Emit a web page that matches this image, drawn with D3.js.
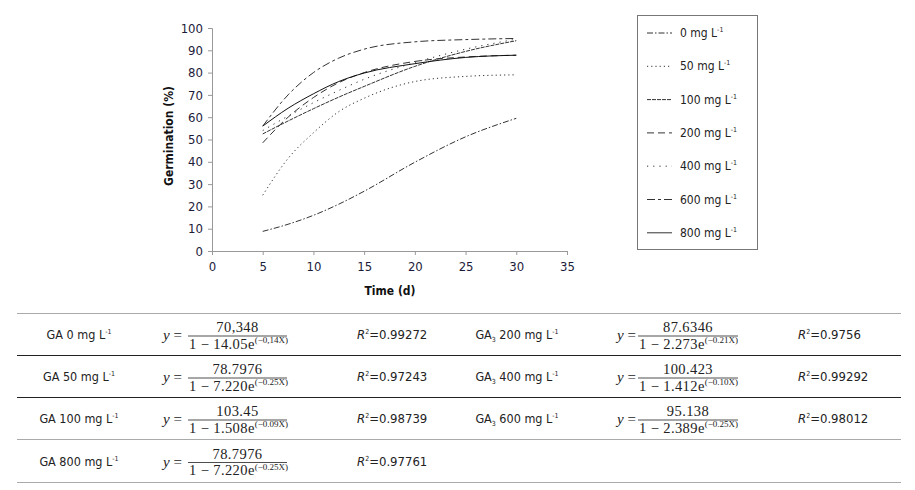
<!DOCTYPE html>
<html>
<head>
<meta charset="utf-8">
<script src="https://cdn.jsdelivr.net/npm/d3@7/dist/d3.min.js"></script>
<style>
  body { margin: 0; background: #fff; }
  svg { display: block; }
  .narrow { font-family: "Liberation Sans Narrow", "DejaVu Sans Condensed", "Liberation Sans", sans-serif; }
  .math { font-family: "Liberation Serif", "DejaVu Serif", serif; }
</style>
</head>
<body>
<script>
'use strict';

var days = [5, 7.5, 10, 12.5, 15, 20, 25, 30];

var doses = ["0", "50", "100", "200", "400", "600", "800"];

var germ0   = [8.8, 12, 16, 21, 26.8, 39.8, 51.2, 59.5];
var germ50  = [25, 41.5, 53, 62.5, 68.5, 76, 78.3, 79];
var germ100 = [52.5, 58.3, 63.8, 69, 73.8, 82.8, 89.5, 94.3];
var germ200 = [48.5, 60, 68.8, 75.5, 80, 85, 87, 87.8];
var germ400 = [54, 60.5, 66.5, 72, 77, 84.5, 90.5, 95];
var germ600 = [56, 70, 80, 86.5, 90.5, 93.8, 94.8, 95.3];
var germ800 = [56, 64, 70.5, 76, 79.8, 84, 86.8, 87.8];

var xTicks = [0, 5, 10, 15, 20, 25, 30, 35];
var yTicks = [0, 10, 20, 30, 40, 50, 60, 70, 80, 90, 100];

// table of fitted equations
var eqPrefix = ["GA", "GA", "GA", "GA", "GA₃", "GA₃", "GA₃"];
var eqDose   = ["0", "50", "100", "800", "200", "400", "600"];
var eqNum    = ["70,348", "78.7976", "103.45", "78.7976", "87.6346", "100.423", "95.138"];
var eqCoef   = ["14.05", "7.220", "1.508", "7.220", "2.273", "1.412", "2.389"];
var eqRate   = ["−0,14X", "−0.25X", "−0.09X", "−0.25X", "−0.21X", "−0.10X", "−0.25X"];
var eqR2     = ["0.99272", "0.97243", "0.98739", "0.97761", "0.9756", "0.99292", "0.98012"];

var series = [germ0, germ50, germ100, germ200, germ400, germ600, germ800];
var dashes = ["6,2,1.5,2", "1.2,3", "4,1", "7,4", "1.2,5", "8,3,3,3", null];

var svg = d3.select("body").append("svg")
    .attr("width", 915)
    .attr("height", 490);

var x = d3.scaleLinear().domain([0, 35]).range([212, 567]);
var y = d3.scaleLinear().domain([0, 100]).range([251, 28]);

var tickColor = "#1c1c3a";

var xAxis = svg.append("g")
    .attr("class", "narrow")
    .attr("transform", "translate(0,251)")
    .call(d3.axisBottom(x).tickValues(xTicks).tickSize(4).tickPadding(7));

var yAxis = svg.append("g")
    .attr("class", "narrow")
    .attr("transform", "translate(212,0)")
    .call(d3.axisLeft(y).tickValues(yTicks).tickSize(4).tickPadding(5));

[xAxis, yAxis].forEach(function(a) {
    a.select(".domain").attr("stroke", "#999");
    a.selectAll(".tick line").attr("stroke", "#999");
    a.selectAll(".tick text")
        .attr("fill", tickColor)
        .style("font-size", "13px")
        .style("font-family", "'Liberation Sans Narrow', 'DejaVu Sans Condensed', sans-serif");
});

svg.append("text")
    .attr("class", "narrow")
    .attr("transform", "translate(173,136) rotate(-90)")
    .attr("text-anchor", "middle")
    .style("font-size", "12px")
    .style("font-weight", "bold")
    .attr("fill", "#111")
    .text("Germination (%)");

svg.append("text")
    .attr("class", "narrow")
    .attr("x", 390)
    .attr("y", 295)
    .attr("text-anchor", "middle")
    .style("font-size", "12px")
    .style("font-weight", "bold")
    .attr("fill", "#111")
    .text("Time (d)");

var line = d3.line()
    .x(function(d, i) { return x(days[i]); })
    .y(function(d) { return y(d); })
    .curve(d3.curveMonotoneX);

series.forEach(function(vals, i) {
    svg.append("path")
        .datum(vals)
        .attr("d", line)
        .attr("fill", "none")
        .attr("stroke", i == 6 ? "#111" : "#333")
        .attr("stroke-width", 1)
        .attr("stroke-dasharray", dashes[i]);
});

// legend
svg.append("rect")
    .attr("x", 637.5).attr("y", 15.5)
    .attr("width", 120).attr("height", 234)
    .attr("fill", "none")
    .attr("stroke", "#777");

doses.forEach(function(dose, i) {
    var ly = 33 + i * 33.3;
    svg.append("line")
        .attr("x1", 647).attr("x2", 672)
        .attr("y1", ly).attr("y2", ly)
        .attr("stroke", "#333")
        .attr("stroke-dasharray", dashes[i]);
    var t = svg.append("text")
        .attr("class", "narrow")
        .attr("x", 680)
        .attr("y", ly + 4)
        .style("font-size", "12px")
        .attr("fill", "#222");
    t.append("tspan").text(dose + " mg L");
    t.append("tspan").attr("dy", -5).style("font-size", "7px").text("-1");
});

// table
var rowTop = [313, 355, 397, 439, 482];
var lineColor = ["#aaa", "#222", "#222", "#aaa", "#aaa"];
rowTop.forEach(function(ry, i) {
    svg.append("line")
        .attr("x1", 17).attr("x2", 901)
        .attr("y1", ry + 0.5).attr("y2", ry + 0.5)
        .attr("stroke", lineColor[i])
        .attr("stroke-width", 1.2);
});

var colSets = [
    {label: 79, eqY: 163, barX: 188, barW: 99, r2: 357},
    {label: 517, eqY: 617, barX: 638, barW: 100, r2: 798}
];

eqDose.forEach(function(dose, i) {
    var col = i < 4 ? colSets[0] : colSets[1];
    var row = i < 4 ? i : i - 4;
    var c = (rowTop[row] + rowTop[row + 1]) / 2;

    var lab = svg.append("text")
        .attr("class", "narrow")
        .attr("x", col.label)
        .attr("y", c + 5)
        .attr("text-anchor", "middle")
        .style("font-size", "12.5px")
        .attr("fill", "#222");
    if (eqPrefix[i] == "GA₃") {
        lab.append("tspan").text("GA");
        lab.append("tspan").attr("dy", 3).style("font-size", "7px").text("3");
        lab.append("tspan").attr("dy", -3).text(" " + dose + " mg L");
    } else {
        lab.append("tspan").text("GA " + dose + " mg L");
    }
    lab.append("tspan").attr("dy", -5).style("font-size", "7px").text("-1");

    svg.append("text")
        .attr("class", "math")
        .attr("x", col.eqY)
        .attr("y", c + 6)
        .style("font-size", "15px")
        .attr("fill", "#222")
        .html("<tspan font-style='italic'>y</tspan> =");

    svg.append("text")
        .attr("class", "math")
        .attr("x", col.barX + col.barW / 2)
        .attr("y", c - 2)
        .attr("text-anchor", "middle")
        .style("font-size", "14.5px")
        .style("letter-spacing", "0.4px")
        .attr("fill", "#222")
        .text(eqNum[i]);

    svg.append("line")
        .attr("x1", col.barX).attr("x2", col.barX + col.barW)
        .attr("y1", c + 2).attr("y2", c + 2)
        .attr("stroke", "#222")
        .attr("stroke-width", 0.8);

    var den = svg.append("text")
        .attr("class", "math")
        .attr("x", col.barX + 1)
        .attr("y", c + 14.5)
        .style("font-size", "14.5px")
        .style("letter-spacing", "0.4px")
        .attr("fill", "#222");
    den.append("tspan").text("1 − " + eqCoef[i] + "e");
    den.append("tspan").attr("dy", -5.5).style("font-size", "9px").style("letter-spacing", "0px").text("(" + eqRate[i] + ")");

    var r = svg.append("text")
        .attr("class", "narrow")
        .attr("x", col.r2)
        .attr("y", c + 5)
        .style("font-size", "13px")
        .attr("fill", "#222");
    r.append("tspan").style("font-style", "italic").text("R");
    r.append("tspan").attr("dy", -5).style("font-size", "7px").text("2");
    r.append("tspan").attr("dy", 5).text("=" + eqR2[i]);
});
</script>
</body>
</html>
